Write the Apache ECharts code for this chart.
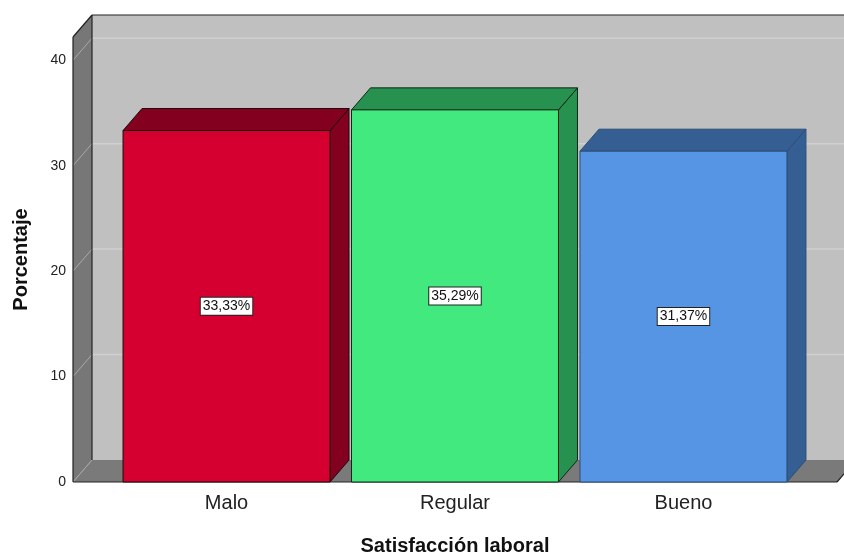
<!DOCTYPE html>
<html><head><meta charset="utf-8">
<script src="https://cdn.jsdelivr.net/npm/echarts@6/dist/echarts.min.js"></script>
<style>html,body{margin:0;padding:0;background:#fff}#c{width:844px;height:553px}</style>
</head><body><div id="c"></div>
<script>
// ---- data ----
const categories = ['Malo', 'Regular', 'Bueno'];
const percentages = [33.33, 35.29, 31.37];
const yTicks = [0, 10, 20, 30, 40];
const xTitle = 'Satisfacción laboral';
const yTitle = 'Porcentaje';

// ---- styles ----
const FRONT = ['#D50030', '#41E97E', '#5595E3'];
const SHADE = ['#84001F', '#279250', '#355F93'];
const EDGE = ['#1f0a0e', '#102818', '#2c4d78'];
const DX = 19, DY = -22;
const X_MIN = -0.672, X_MAX = 2.672, Y_MAX = 42.2;
const HALF = 0.453;
const FONT = '"Liberation Sans", Arial, sans-serif';

const fmt = v => v.toFixed(2).replace('.', ',') + '%';

const chart = echarts.init(document.getElementById('c'), null, { renderer: 'canvas' });

function wallsItem(params, api) {
  const p0 = api.coord([X_MIN, 0]);
  const p1 = api.coord([X_MAX, Y_MAX]);
  const x0 = p0[0], y0 = p0[1], x1 = p1[0], yT = p1[1];
  const ch = [];
  ch.push({ type: 'rect', shape: { x: x0 + DX, y: yT + DY, width: x1 - x0, height: y0 - yT }, style: { fill: '#C0C0C0' } });
  ch.push({ type: 'polygon', shape: { points: [[x0, y0], [x1, y0], [x1 + DX, y0 + DY], [x0 + DX, y0 + DY]] }, style: { fill: '#7A7A7A' } });
  ch.push({ type: 'polygon', shape: { points: [[x0, y0], [x0, yT], [x0 + DX, yT + DY], [x0 + DX, y0 + DY]] }, style: { fill: '#777777' } });
  yTicks.forEach(t => {
    if (t === 0) return;
    const y = api.coord([X_MIN, t])[1];
    ch.push({ type: 'line', shape: { x1: x0 + DX, y1: y + DY, x2: x1 + DX, y2: y + DY }, style: { stroke: '#D0D0D0', lineWidth: 1.5 } });
    ch.push({ type: 'line', shape: { x1: x0, y1: y, x2: x0 + DX, y2: y + DY }, style: { stroke: '#A9A9A9', lineWidth: 1 } });
  });
  ch.push({ type: 'line', shape: { x1: x0, y1: y0, x2: x0 + DX, y2: y0 + DY }, style: { stroke: '#A9A9A9', lineWidth: 1 } });
  const edge = { stroke: '#222', lineWidth: 1.2 };
  ch.push({ type: 'line', shape: { x1: x0, y1: yT, x2: x0, y2: y0 }, style: edge });
  ch.push({ type: 'line', shape: { x1: x0, y1: yT, x2: x0 + DX, y2: yT + DY }, style: edge });
  ch.push({ type: 'line', shape: { x1: x0 + DX, y1: yT + DY, x2: x1 + DX, y2: yT + DY }, style: edge });
  ch.push({ type: 'line', shape: { x1: x0 + DX, y1: yT + DY, x2: x0 + DX, y2: y0 + DY }, style: edge });
  ch.push({ type: 'line', shape: { x1: x0, y1: y0, x2: x1, y2: y0 }, style: edge });
  ch.push({ type: 'line', shape: { x1: x1, y1: y0, x2: x1 + DX, y2: y0 + DY }, style: edge });
  return { type: 'group', children: ch };
}

function barItem(params, api) {
  const i = api.value(0), v = api.value(1);
  const a = api.coord([i - HALF, v]), b = api.coord([i + HALF, 0]);
  const L = a[0], T = a[1], R = b[0], B = b[1];
  const c = params.dataIndex;
  const st = { fill: SHADE[c], stroke: EDGE[c], lineWidth: 1 };
  return {
    type: 'group', children: [
      { type: 'polygon', shape: { points: [[R, B], [R, T], [R + DX, T + DY], [R + DX, B + DY]] }, style: st },
      { type: 'polygon', shape: { points: [[L, T], [R, T], [R + DX, T + DY], [L + DX, T + DY]] }, style: st },
      { type: 'rect', shape: { x: L, y: T, width: R - L, height: B - T }, style: { fill: FRONT[c], stroke: EDGE[c], lineWidth: 1 } },
      { type: 'text', x: (L + R) / 2, y: (T + B) / 2, style: {
          text: fmt(v), align: 'center', verticalAlign: 'middle', fill: '#111',
          font: '14px ' + FONT, backgroundColor: '#fff', borderColor: '#222', borderWidth: 1, padding: [2, 2, 1, 2] } }
    ]
  };
}

chart.setOption({
  animation: false,
  grid: { left: 73, right: 7, top: 37, bottom: 71, containLabel: false, outerBoundsMode: 'none' },
  xAxis: {
    type: 'value', min: X_MIN, max: X_MAX,
    axisLine: { show: false }, axisTick: { show: false }, splitLine: { show: false },
    axisLabel: { customValues: [0, 1, 2], formatter: v => categories[Math.round(v)] || '', fontSize: 20, color: '#222', fontFamily: FONT, margin: 11 },
    name: xTitle, nameLocation: 'middle', nameGap: 54,
    nameTextStyle: { fontSize: 20, fontWeight: 'bold', color: '#111', fontFamily: FONT }
  },
  yAxis: {
    type: 'value', min: 0, max: Y_MAX, interval: 10,
    axisLine: { show: false }, axisTick: { show: false }, splitLine: { show: false },
    axisLabel: { formatter: v => (Math.abs(v % 10) < 1e-9 ? String(v) : ''), fontSize: 14, color: '#222', fontFamily: FONT, margin: 7 },
    name: yTitle, nameLocation: 'middle', nameGap: 42,
    nameTextStyle: { fontSize: 20, fontWeight: 'bold', color: '#111', fontFamily: FONT }
  },
  series: [
    { type: 'custom', clip: false, silent: true, z: 1, renderItem: wallsItem, data: [[0, 0]] },
    { type: 'custom', clip: false, z: 2, renderItem: barItem, data: percentages.map((v, i) => [i, v]) }
  ]
});
</script></body></html>
